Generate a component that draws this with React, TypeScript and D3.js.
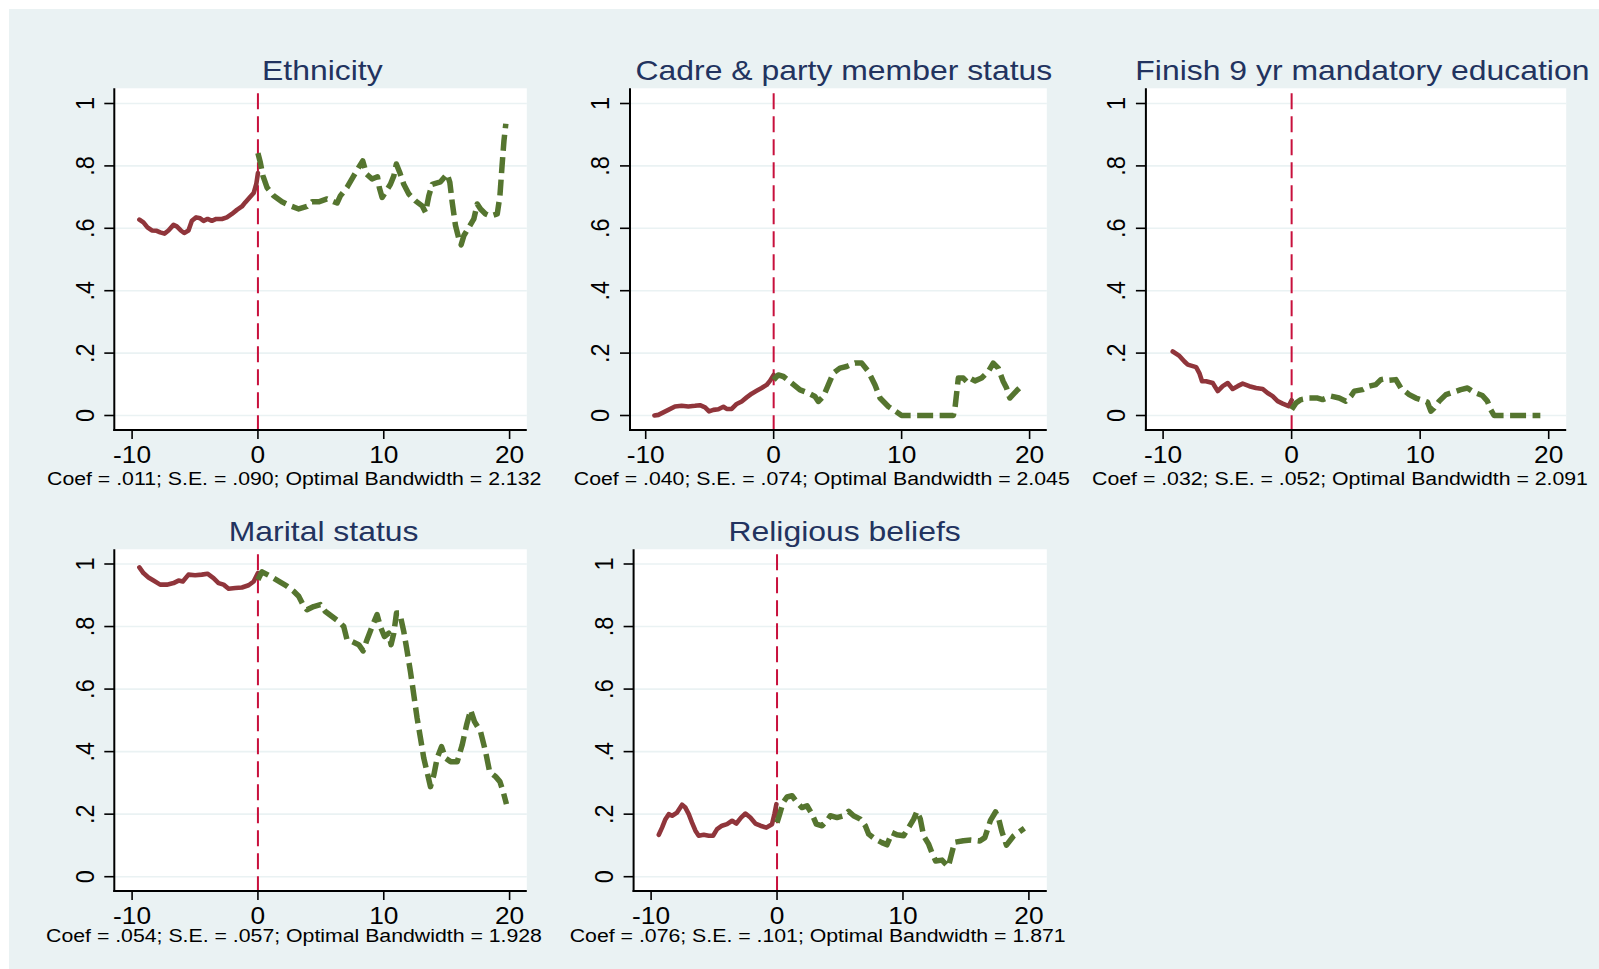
import React from 'react';
import * as d3 from 'd3';

// ---------- data ----------
const panelTitles = [
  'Ethnicity',
  'Cadre & party member status',
  'Finish 9 yr mandatory education',
  'Marital status',
  'Religious beliefs',
];
const panelNotes = [
  'Coef = .011; S.E. = .090; Optimal Bandwidth = 2.132',
  'Coef = .040; S.E. = .074; Optimal Bandwidth = 2.045',
  'Coef = .032; S.E. = .052; Optimal Bandwidth = 2.091',
  'Coef = .054; S.E. = .057; Optimal Bandwidth = 1.928',
  'Coef = .076; S.E. = .101; Optimal Bandwidth = 1.871',
];
const xTicks = [-10, 0, 10, 20];
const yTicks = [0, 0.2, 0.4, 0.6, 0.8, 1];
const yTickLabels = ['0', '.2', '.4', '.6', '.8', '1'];
const cutoff = 0;

type Pt = [number, number];

const ethnicityLeft: Pt[] = [[-9.42,0.628],[-9.1,0.619],[-8.78,0.603],[-8.43,0.593],[-8.04,0.592],[-7.77,0.587],[-7.43,0.583],[-7.11,0.593],[-6.71,0.611],[-6.45,0.606],[-6.13,0.593],[-5.86,0.585],[-5.52,0.593],[-5.25,0.624],[-4.91,0.635],[-4.59,0.632],[-4.32,0.624],[-4.0,0.630],[-3.66,0.624],[-3.32,0.630],[-2.86,0.630],[-2.47,0.635],[-2.07,0.646],[-1.67,0.659],[-1.27,0.670],[-1.01,0.683],[-0.66,0.699],[-0.34,0.713],[-0.13,0.742],[0,0.777]];
const ethnicityRight: Pt[] = [[0,0.841],[0.19,0.811],[0.40,0.768],[0.72,0.731],[1.25,0.704],[1.91,0.685],[2.57,0.672],[3.24,0.662],[3.9,0.670],[4.3,0.685],[4.83,0.685],[5.49,0.694],[6.02,0.685],[6.29,0.681],[6.55,0.704],[7.08,0.731],[7.61,0.768],[8.01,0.795],[8.33,0.816],[8.62,0.774],[9.07,0.758],[9.5,0.765],[9.65,0.73],[9.87,0.699],[10.13,0.715],[10.53,0.741],[10.8,0.768],[11.0,0.806],[11.27,0.779],[11.59,0.741],[11.99,0.710],[12.52,0.688],[13.05,0.672],[13.32,0.651],[13.58,0.704],[13.85,0.741],[14.51,0.749],[15.04,0.774],[15.25,0.747],[15.44,0.683],[15.7,0.609],[15.97,0.566],[16.15,0.547],[16.37,0.577],[16.76,0.603],[17.16,0.630],[17.43,0.678],[17.69,0.662],[18.09,0.646],[18.49,0.639],[19.02,0.646],[19.23,0.704],[19.4,0.80],[19.55,0.88],[19.7,0.935]];

const cadreLeft: Pt[] = [[-9.32,0.0],[-9.01,0.002],[-8.62,0.01],[-8.23,0.018],[-7.71,0.029],[-7.19,0.031],[-6.67,0.029],[-6.15,0.031],[-5.76,0.033],[-5.36,0.026],[-5.05,0.013],[-4.71,0.018],[-4.32,0.02],[-3.93,0.028],[-3.67,0.021],[-3.28,0.021],[-2.89,0.037],[-2.5,0.045],[-2.11,0.058],[-1.72,0.07],[-1.33,0.079],[-0.94,0.088],[-0.55,0.098],[-0.29,0.111],[0,0.13]];
const cadreRight: Pt[] = [[0,0.114],[0.36,0.13],[0.76,0.125],[1.41,0.104],[2.06,0.082],[2.71,0.072],[3.23,0.061],[3.49,0.045],[3.88,0.061],[4.27,0.098],[4.66,0.136],[5.18,0.152],[5.7,0.157],[6.35,0.168],[6.88,0.168],[7.4,0.141],[7.92,0.098],[8.31,0.056],[8.96,0.029],[9.61,0.011],[10.0,0.0],[14.04,0.0],[14.17,0.024],[14.3,0.072],[14.43,0.12],[14.82,0.12],[15.08,0.109],[15.34,0.12],[15.73,0.111],[16.25,0.12],[16.77,0.141],[17.16,0.168],[17.55,0.152],[17.94,0.109],[18.2,0.088],[18.45,0.056],[19.0,0.08],[19.5,0.10]];

const educationLeft: Pt[] = [[-9.25,0.205],[-8.73,0.191],[-8.34,0.173],[-8.08,0.163],[-7.43,0.155],[-7.18,0.136],[-6.97,0.11],[-6.66,0.11],[-6.14,0.104],[-5.75,0.078],[-5.36,0.094],[-4.97,0.104],[-4.59,0.085],[-4.2,0.094],[-3.81,0.102],[-3.29,0.094],[-2.77,0.088],[-2.25,0.085],[-1.87,0.072],[-1.48,0.062],[-1.09,0.046],[-0.7,0.038],[-0.23,0.03],[0,0.049]];
const educationRight: Pt[] = [[0,0.019],[0.34,0.04],[0.73,0.051],[1.37,0.056],[2.02,0.056],[2.41,0.051],[3.06,0.062],[3.7,0.056],[4.22,0.046],[4.61,0.062],[4.87,0.078],[5.52,0.083],[6.04,0.094],[6.55,0.099],[6.94,0.115],[7.2,0.117],[7.59,0.113],[8.11,0.115],[8.5,0.088],[9.15,0.067],[9.66,0.056],[10.18,0.049],[10.57,0.043],[10.83,0.014],[11.09,0.024],[11.48,0.046],[12.0,0.067],[12.51,0.074],[13.16,0.083],[13.68,0.088],[14.2,0.074],[14.84,0.064],[15.23,0.046],[15.49,0.019],[15.75,0.0],[19.35,0.0]];

const maritalLeft: Pt[] = [[-9.42,0.989],[-9.1,0.971],[-8.7,0.957],[-8.3,0.947],[-7.77,0.934],[-7.24,0.934],[-6.71,0.939],[-6.31,0.947],[-5.97,0.944],[-5.52,0.966],[-4.99,0.964],[-4.46,0.966],[-4.01,0.969],[-3.53,0.955],[-3.13,0.939],[-2.73,0.934],[-2.33,0.921],[-1.8,0.923],[-1.27,0.925],[-0.74,0.932],[-0.34,0.944],[0,0.971]];
const maritalRight: Pt[] = [[0,0.95],[0.32,0.975],[0.98,0.961],[1.64,0.945],[2.31,0.929],[2.84,0.913],[3.24,0.897],[3.58,0.87],[3.9,0.854],[4.43,0.864],[4.96,0.87],[5.36,0.848],[5.89,0.832],[6.42,0.816],[6.82,0.8],[7.08,0.758],[7.48,0.752],[8.01,0.742],[8.36,0.722],[8.67,0.758],[9.07,0.8],[9.47,0.838],[9.73,0.8],[10.05,0.768],[10.4,0.779],[10.58,0.742],[10.8,0.779],[11.01,0.843],[11.27,0.843],[11.59,0.784],[11.86,0.72],[12.12,0.656],[12.39,0.581],[12.65,0.507],[12.92,0.443],[13.18,0.379],[13.5,0.325],[13.71,0.288],[13.98,0.325],[14.24,0.379],[14.59,0.416],[14.91,0.379],[15.31,0.368],[15.84,0.368],[16.23,0.421],[16.58,0.485],[16.9,0.533],[17.21,0.496],[17.69,0.464],[18.09,0.4],[18.41,0.336],[18.89,0.32],[19.23,0.304],[19.5,0.27],[19.75,0.232]];

const religionLeft: Pt[] = [[-9.39,0.134],[-9.13,0.157],[-8.86,0.184],[-8.6,0.2],[-8.33,0.195],[-7.94,0.205],[-7.54,0.23],[-7.28,0.221],[-7.01,0.2],[-6.75,0.173],[-6.48,0.147],[-6.22,0.131],[-5.82,0.134],[-5.42,0.131],[-5.08,0.131],[-4.76,0.152],[-4.37,0.163],[-3.97,0.168],[-3.57,0.179],[-3.23,0.17],[-2.86,0.189],[-2.51,0.202],[-2.12,0.189],[-1.72,0.17],[-1.32,0.163],[-0.85,0.157],[-0.4,0.168],[-0.21,0.2],[-0.05,0.232]];
const religionRight: Pt[] = [[0,0.173],[0.21,0.2],[0.48,0.237],[0.79,0.255],[1.19,0.259],[1.59,0.237],[1.98,0.221],[2.38,0.227],[2.78,0.2],[3.12,0.168],[3.57,0.163],[3.97,0.179],[4.23,0.195],[4.76,0.189],[5.29,0.195],[5.69,0.209],[6.08,0.195],[6.61,0.184],[7.01,0.163],[7.28,0.136],[7.8,0.12],[8.33,0.109],[8.73,0.102],[9.13,0.141],[9.52,0.134],[10.05,0.131],[10.45,0.157],[10.85,0.184],[11.11,0.209],[11.38,0.184],[11.64,0.131],[12.04,0.104],[12.3,0.077],[12.6,0.05],[13.1,0.053],[13.6,0.032],[14.1,0.11],[14.8,0.115],[15.4,0.117],[16.1,0.114],[16.5,0.125],[16.95,0.18],[17.35,0.207],[17.6,0.185],[17.85,0.145],[18.22,0.101],[18.78,0.13],[19.64,0.155]];

const leftSeries = [ethnicityLeft, cadreLeft, educationLeft, maritalLeft, religionLeft];
const rightSeries = [ethnicityRight, cadreRight, educationRight, maritalRight, religionRight];

// ---------- layout ----------
const W = 1599;
const H = 969;
const layout = [
  { l: 114.3, r: 526.8, t: 88.3, b: 430, xa: 132.1, xb: 509.6, y0: 415.5, y1: 103.5, tx: 322.3, ty: 80, nx: 294.2, ny: 485 },
  { l: 630, r: 1046.8, t: 88.3, b: 430, xa: 645.7, xb: 1029.6, y0: 415.5, y1: 103.5, tx: 843.9, ty: 80, nx: 821.8, ny: 485 },
  { l: 1145.9, r: 1566.2, t: 88.3, b: 430, xa: 1163.1, xb: 1548.7, y0: 415.5, y1: 103.5, tx: 1362.4, ty: 80, nx: 1340, ny: 485 },
  { l: 114.3, r: 526.8, t: 549.3, b: 891, xa: 132.1, xb: 509.6, y0: 876.7, y1: 564, tx: 323.6, ty: 540.7, nx: 294, ny: 942 },
  { l: 633.6, r: 1046.8, t: 549.3, b: 891, xa: 651.1, xb: 1028.9, y0: 876.7, y1: 564, tx: 844.6, ty: 540.7, nx: 817.7, ny: 942 },
];

const FONT = '"Liberation Sans", Arial, Helvetica, sans-serif';
const SX = 1.12;
const BG = '#eaf2f3';
const TITLE_COLOR = '#22335f';
const LEFT_COLOR = '#90353b';
const RIGHT_COLOR = '#55752f';
const CUT_COLOR = '#c8103c';

function Panel({ i }: { i: number }) {
  const L = layout[i];
  const x = d3.scaleLinear().domain([xTicks[0], xTicks[xTicks.length - 1]]).range([L.xa, L.xb]);
  const y = d3.scaleLinear().domain([0, 1]).range([L.y0, L.y1]);
  const line = d3.line<Pt>().x((d) => x(d[0])).y((d) => y(d[1]));
  return (
    <g>
      <rect x={L.l} y={L.t} width={L.r - L.l} height={L.b - L.t} fill="#ffffff" />
      {yTicks.map((v) => (
        <line key={'g' + v} x1={L.l} x2={L.r} y1={y(v)} y2={y(v)} stroke={BG} strokeWidth={1.6} />
      ))}
      <line x1={x(cutoff)} x2={x(cutoff)} y1={L.t + 5} y2={L.b} stroke={CUT_COLOR} strokeWidth={2} strokeDasharray="16,7" />
      <path d={line(leftSeries[i]) || ''} fill="none" stroke={LEFT_COLOR} strokeWidth={4.6} strokeLinejoin="round" strokeLinecap="round" />
      <path d={line(rightSeries[i]) || ''} fill="none" stroke={RIGHT_COLOR} strokeWidth={5.5} strokeLinejoin="round" strokeDasharray="16,6.5" />
      {/* axes */}
      <line x1={L.l} x2={L.l} y1={L.t} y2={L.b + 1} stroke="#000" strokeWidth={2} />
      <line x1={L.l - 1} x2={L.r} y1={L.b} y2={L.b} stroke="#000" strokeWidth={2} />
      {yTicks.map((v, k) => (
        <g key={'y' + v}>
          <line x1={L.l - 10} x2={L.l} y1={y(v)} y2={y(v)} stroke="#000" strokeWidth={1.6} />
          <text
            transform={`translate(${L.l - 20.7},${y(v)}) scale(${SX},1) rotate(-90)`}
            textAnchor="middle"
            fontFamily={FONT}
            fontSize={23.5}
            fill="#000"
          >
            {yTickLabels[k]}
          </text>
        </g>
      ))}
      {xTicks.map((v) => (
        <g key={'x' + v}>
          <line x1={x(v)} x2={x(v)} y1={L.b} y2={L.b + 9} stroke="#000" strokeWidth={1.6} />
          <text
            transform={`translate(${x(v)},${L.b + 33}) scale(${SX},1)`}
            textAnchor="middle"
            fontFamily={FONT}
            fontSize={23.5}
            fill="#000"
          >
            {v === 0 ? '0' : v < 0 ? '-' + Math.abs(v) : String(v)}
          </text>
        </g>
      ))}
      <text
        transform={`translate(${L.tx},${L.ty}) scale(${SX},1)`}
        textAnchor="middle"
        fontFamily={FONT}
        fontSize={28.5}
        fill={TITLE_COLOR}
      >
        {panelTitles[i]}
      </text>
      <text
        transform={`translate(${L.nx},${L.ny}) scale(${SX},1)`}
        textAnchor="middle"
        fontFamily={FONT}
        fontSize={19}
        fill="#000"
      >
        {panelNotes[i]}
      </text>
    </g>
  );
}

export default function App() {
  return (
    <svg
      width={W}
      height={H}
      viewBox={`0 0 ${W} ${H}`}
      style={{ position: 'absolute', left: 0, top: 0, display: 'block' }}
    >
      <rect x={0} y={0} width={W} height={H} fill="#ffffff" />
      <rect x={9} y={9} width={W - 9} height={H - 9} fill={BG} />
      {panelTitles.map((_, i) => (
        <Panel key={i} i={i} />
      ))}
    </svg>
  );
}
